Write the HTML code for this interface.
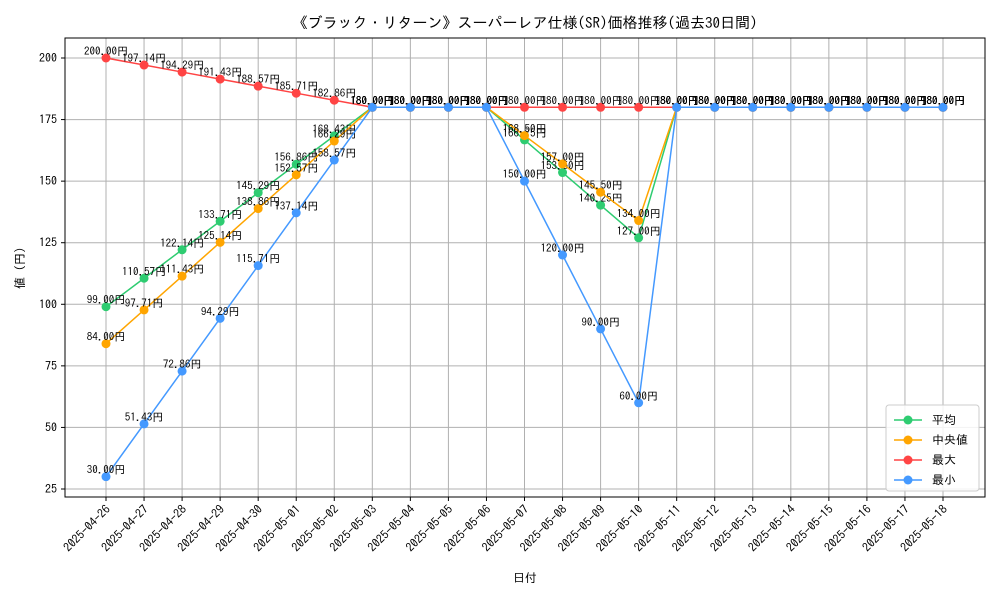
<!DOCTYPE html>
<html><head><meta charset="utf-8"><style>
body{margin:0;background:#fff}
svg text{font-family:"IPAGothic","Noto Sans CJK JP",monospace}
</style></head><body>
<svg id="c" width="1000" height="600" xmlns="http://www.w3.org/2000/svg"></svg>
<script>
const dates=["2025-04-26","2025-04-27","2025-04-28","2025-04-29","2025-04-30","2025-05-01","2025-05-02","2025-05-03","2025-05-04","2025-05-05","2025-05-06","2025-05-07","2025-05-08","2025-05-09","2025-05-10","2025-05-11","2025-05-12","2025-05-13","2025-05-14","2025-05-15","2025-05-16","2025-05-17","2025-05-18"];
const avgVals=[99.00,110.57,122.14,133.71,145.29,156.86,168.43,180,180,180,180,166.75,153.50,140.25,127.00,180,180,180,180,180,180,180,180];
const medVals=[84.00,97.71,111.43,125.14,138.86,152.57,166.29,180,180,180,180,168.50,157.00,145.50,134.00,180,180,180,180,180,180,180,180];
const maxVals=[200.00,197.14,194.29,191.43,188.57,185.71,182.86,180,180,180,180,180,180,180,180,180,180,180,180,180,180,180,180];
const minVals=[30.00,51.43,72.86,94.29,115.71,137.14,158.57,180,180,180,180,150.00,120.00,90.00,60.00,180,180,180,180,180,180,180,180];
const yTicks=[25,50,75,100,125,150,175,200];
const seriesNames=["平均","中央値","最大","最小"];
const colors=["#2ecc71","#ffa500","#ff4444","#4499ff"];
const svg=document.getElementById('c');const NS="http://www.w3.org/2000/svg";
const L=65,R=985,T=38,B=497;
const x=i=>106+i*(943-106)/(dates.length-1);
const y=v=>58+(200-v)*(489-58)/175;
function mk(tag,at,p){const e=document.createElementNS(NS,tag);for(const k in at)e.setAttribute(k,at[k]);(p||svg).appendChild(e);return e;}
dates.forEach((d,i)=>{
 const g=mk('line',{x1:x(i),x2:x(i),y1:T,y2:B,stroke:'#b0b0b0','stroke-width':1});
 
 
 mk('line',{x1:x(i),x2:x(i),y1:B,y2:B+4,stroke:'#000'});
 const t=mk('text',{x:x(i)+5,y:B+13,'font-size':12,'text-anchor':'end',transform:`rotate(-45 ${x(i)+5} ${B+13})`});
 t.textContent=d;
 
 
});
yTicks.forEach(v=>{
 const g=mk('line',{x1:L,x2:R,y1:y(v),y2:y(v),stroke:'#b0b0b0','stroke-width':1});
 
 
 mk('line',{x1:L-4,x2:L,y1:y(v),y2:y(v),stroke:'#000'});
 const t=mk('text',{x:L-8,y:y(v)+4,'font-size':12,'text-anchor':'end'});
 t.textContent=v;
 
 
});
const fr=mk('rect',{x:L,y:T,width:R-L,height:B-T,fill:'none',stroke:'#000'});


[avgVals,medVals,maxVals,minVals].forEach((vals,s)=>{
 const g=mk('g',{});
 
 
 mk('polyline',{points:vals.map((v,i)=>x(i)+','+y(v)).join(' '),fill:'none',stroke:colors[s],'stroke-width':1.5},g);
 vals.forEach((v,i)=>{
  const c=mk('circle',{cx:x(i),cy:y(v),r:4.5,fill:colors[s]},g);
  
  
 });
 vals.forEach((v,i)=>{
  const t=mk('text',{x:x(i),y:y(v)-3,'font-size':11,'text-anchor':'middle'},g);
  t.textContent=v.toFixed(2)+'円';
  
  
 });
});
const ti=mk('text',{x:525,y:28,'font-size':15,'text-anchor':'middle'});
ti.textContent='《ブラック・リターン》スーパーレア仕様(SR)価格推移(過去30日間)';


const xl=mk('text',{x:525,y:582,'font-size':12,'text-anchor':'middle'});
xl.textContent='日付';


const yl=mk('text',{x:24,y:268,'font-size':12,'text-anchor':'middle',transform:'rotate(-90 24 268)'});
yl.textContent='値 (円)';


const lg=mk('g',{});


mk('rect',{x:886,y:405,width:93,height:86,rx:3,fill:'#fff','fill-opacity':0.85,stroke:'#ccc'},lg);
seriesNames.forEach((n,s)=>{
 const yy=420+s*20;
 const e=mk('g',{},lg);
 
 
 mk('line',{x1:894,x2:922,y1:yy,y2:yy,stroke:colors[s],'stroke-width':1.5},e);
 mk('circle',{cx:908,cy:yy,r:4.5,fill:colors[s]},e);
 const t=mk('text',{x:932,y:yy+4,'font-size':12},e);
 t.textContent=n;
});
</script>
</body></html>
